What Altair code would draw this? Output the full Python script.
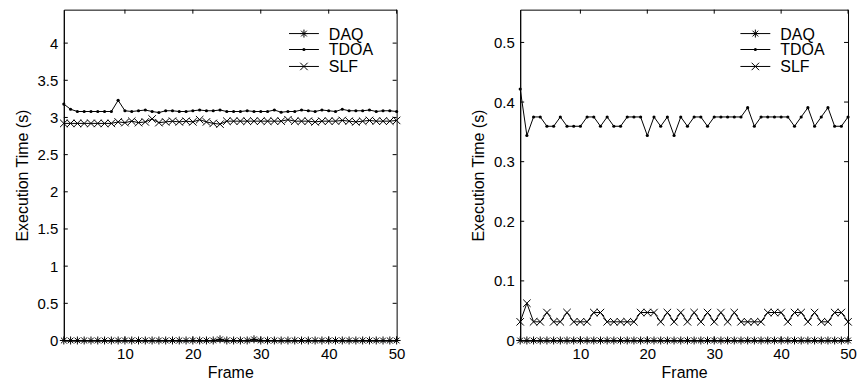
import altair as alt
import pandas as pd

FONT = "Liberation Sans"

frames = list(range(1, 51))
series_names = ["DAQ", "TDOA", "SLF"]

left_daq = [0, 0, 0, 0, 0, 0, 0, 0, 0, 0,
            0, 0, 0, 0, 0, 0, 0, 0, 0, 0,
            0, 0, 0, 0.0156, 0, 0, 0, 0, 0.0156, 0,
            0, 0, 0, 0, 0, 0, 0, 0, 0, 0,
            0, 0, 0, 0, 0, 0, 0, 0, 0, 0]
left_tdoa = [3.18, 3.11, 3.08, 3.08, 3.08, 3.08, 3.08, 3.08, 3.23, 3.09,
             3.08, 3.09, 3.10, 3.08, 3.066, 3.09, 3.09, 3.08, 3.08, 3.09,
             3.10, 3.09, 3.09, 3.10, 3.08, 3.08, 3.08, 3.09, 3.08, 3.08,
             3.08, 3.10, 3.07, 3.08, 3.08, 3.10, 3.09, 3.08, 3.10, 3.09,
             3.08, 3.11, 3.09, 3.09, 3.09, 3.10, 3.08, 3.09, 3.09, 3.08]
left_slf = [2.92, 2.92, 2.92, 2.92, 2.92, 2.92, 2.92, 2.92, 2.94, 2.93,
            2.95, 2.93, 2.94, 2.98, 2.93, 2.94, 2.95, 2.94, 2.95, 2.94,
            2.97, 2.94, 2.92, 2.91, 2.95, 2.95, 2.95, 2.95, 2.95, 2.95,
            2.95, 2.95, 2.95, 2.97, 2.95, 2.95, 2.95, 2.94, 2.95, 2.95,
            2.95, 2.96, 2.95, 2.94, 2.95, 2.96, 2.95, 2.95, 2.95, 2.96]

right_daq = [0, 0, 0, 0, 0, 0, 0, 0, 0, 0,
             0, 0, 0, 0, 0, 0, 0, 0, 0, 0,
             0, 0, 0, 0, 0, 0, 0, 0, 0, 0,
             0, 0, 0, 0, 0, 0, 0, 0, 0, 0,
             0, 0, 0, 0, 0, 0, 0, 0, 0, 0]
right_tdoa = [0.4219, 0.3438, 0.375, 0.375, 0.3594, 0.3594, 0.375, 0.3594, 0.3594, 0.3594,
              0.375, 0.375, 0.3594, 0.375, 0.3594, 0.3594, 0.375, 0.375, 0.375, 0.3438,
              0.375, 0.3594, 0.375, 0.3438, 0.375, 0.3594, 0.375, 0.375, 0.3594, 0.375,
              0.375, 0.375, 0.375, 0.375, 0.3906, 0.3594, 0.375, 0.375, 0.375, 0.375,
              0.375, 0.3594, 0.375, 0.3906, 0.3594, 0.375, 0.3906, 0.3594, 0.3594, 0.375]
right_slf = [0.0313, 0.0625, 0.0313, 0.0313, 0.0469, 0.0313, 0.0313, 0.0469, 0.0313, 0.0313,
             0.0313, 0.0469, 0.0469, 0.0313, 0.0313, 0.0313, 0.0313, 0.0313, 0.0469, 0.0469,
             0.0469, 0.0313, 0.0469, 0.0313, 0.0469, 0.0313, 0.0469, 0.0313, 0.0469, 0.0313,
             0.0469, 0.0313, 0.0469, 0.0313, 0.0313, 0.0313, 0.0313, 0.0469, 0.0469, 0.0469,
             0.0313, 0.0469, 0.0469, 0.0313, 0.0469, 0.0313, 0.0313, 0.0469, 0.0469, 0.0313]

x_ticks = [10, 20, 30, 40, 50]
left_y_ticks = [0, 0.5, 1, 1.5, 2, 2.5, 3, 3.5, 4]
right_y_ticks = [0, 0.1, 0.2, 0.3, 0.4, 0.5]
left_y_max = 4.45
right_y_max = 0.555

STAR = "M-1,0L1,0M0,-1L0,1M-0.72,-0.72L0.72,0.72M-0.72,0.72L0.72,-0.72"
XMARK = "M-1,-1L1,1M-1,1L1,-1"
marker_style = {
    "DAQ": dict(shape=STAR, size=64, filled=False, strokeWidth=1),
    "TDOA": dict(shape="circle", size=10, filled=True, strokeWidth=0),
    "SLF": dict(shape=XMARK, size=56, filled=False, strokeWidth=1),
}


def long_df(daq, tdoa, slf):
    rows = []
    for name, vals in zip(series_names, [daq, tdoa, slf]):
        for f, v in zip(frames, vals):
            rows.append({"frame": f, "value": v, "series": name})
    return pd.DataFrame(rows)


def panel(df, y_max, y_ticks, W, H):
    xs = alt.Scale(domain=[1, 50], nice=False, zero=False)
    ys = alt.Scale(domain=[0, y_max], nice=False, zero=False)
    x_axis = alt.Axis(values=x_ticks, title="Frame", format="d")
    y_axis = alt.Axis(values=y_ticks, title="Execution Time (s)", format="~g")
    x_enc = alt.X("frame:Q", scale=xs, axis=x_axis)
    y_enc = alt.Y("value:Q", scale=ys, axis=y_axis)
    base = alt.Chart(df)
    layers = [base.mark_line(color="black", strokeWidth=1).encode(
        x=x_enc, y=y_enc, detail="series:N")]
    for name in series_names:
        layers.append(
            base.transform_filter(alt.datum.series == name)
            .mark_point(color="black", opacity=1, **marker_style[name])
            .encode(x=x_enc, y=y_enc)
        )
    # inward ticks (MATLAB style)
    tl = 4
    xt = alt.Chart(pd.DataFrame({"frame": x_ticks}))
    yt = alt.Chart(pd.DataFrame({"value": y_ticks}))
    layers += [
        xt.mark_rule(color="black", strokeWidth=1).encode(x=x_enc, y=alt.value(H), y2=alt.value(H - tl)),
        xt.mark_rule(color="black", strokeWidth=1).encode(x=x_enc, y=alt.value(0), y2=alt.value(tl)),
        yt.mark_rule(color="black", strokeWidth=1).encode(y=y_enc, x=alt.value(0), x2=alt.value(tl)),
        yt.mark_rule(color="black", strokeWidth=1).encode(y=y_enc, x=alt.value(W), x2=alt.value(W - tl)),
    ]
    # legend
    legend_y = [24, 40, 57]
    for i, name in enumerate(series_names):
        c = alt.Chart(pd.DataFrame({"name": [name]}))
        yy = legend_y[i]
        layers.append(c.mark_rule(color="black", strokeWidth=1).encode(
            x=alt.value(W - 108), x2=alt.value(W - 78), y=alt.value(yy)))
        layers.append(c.mark_point(color="black", opacity=1, **marker_style[name]).encode(
            x=alt.value(W - 93), y=alt.value(yy)))
        layers.append(c.mark_text(align="left", baseline="middle", font=FONT, fontSize=16,
                                  color="black").encode(
            x=alt.value(W - 68), y=alt.value(yy + 1), text="name:N"))
    return alt.layer(*layers).properties(width=W, height=H)


H = 332
left = panel(long_df(left_daq, left_tdoa, left_slf), left_y_max, left_y_ticks, 334, H)
right = panel(long_df(right_daq, right_tdoa, right_slf), right_y_max, right_y_ticks, 329, H)

chart = (
    alt.hconcat(left, right, spacing=64)
    .properties(padding={"left": 5, "top": 0, "right": 0, "bottom": 0})
    .configure_view(stroke="black", strokeWidth=1)
    .configure_axis(
        labelFont=FONT, labelFontSize=15, labelColor="black",
        titleFont=FONT, titleFontSize=16, titleFontWeight="normal", titleColor="black",
        domainColor="black", domainWidth=1, ticks=False, grid=False,
        labelFlush=False,
    )
    .configure_axisX(labelPadding=6, titlePadding=3)
    .configure_axisY(labelPadding=6, titlePadding=7)
)

chart.save("out.html", embed_options={"renderer": "svg", "actions": False})
